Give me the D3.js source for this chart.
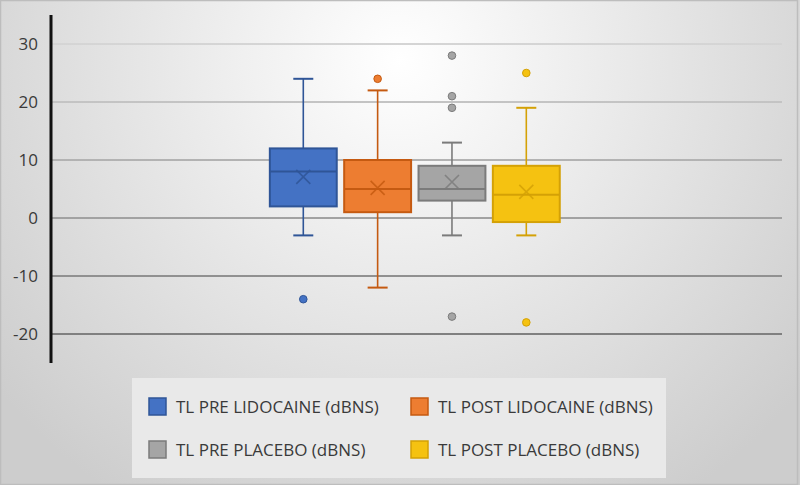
<!DOCTYPE html>
<html>
<head>
<meta charset="utf-8">
<script src="https://cdn.jsdelivr.net/npm/d3@7"></script>
<style>
    html, body { margin: 0; padding: 0; background: #fff; }
    svg { display: block; font-family: "Open Sans", "Noto Sans", sans-serif; }
</style>
</head>
<body>
<svg id="chart" width="800" height="485"></svg>
<script>
// Data
const seriesNames = ['TL PRE LIDOCAINE (dBNS)', 'TL POST LIDOCAINE (dBNS)', 'TL PRE PLACEBO (dBNS)', 'TL POST PLACEBO (dBNS)'];
const whiskerLow = [-3, -12, -3, -3];
const q1 = [2, 1, 3, -0.7];
const median = [8, 5, 5, 4];
const q3 = [12, 10, 9, 9];
const whiskerHigh = [24, 22, 13, 19];
const means = [7.1, 5.2, 6.2, 4.5];
const outliers = [[-14], [24], [28, 21, 19, -17], [25, -18]];
const yTicks = [-20, -10, 0, 10, 20, 30];

const fills = ['#4472c4', '#ed7d31', '#a5a5a5', '#f5c211'];
const strokes = ['#2f5597', '#c55a11', '#7b7b7b', '#d4a106'];

const svg = d3.select('#chart');
const W = 800, H = 485;

// Background
const defs = svg.append('defs');
const bg = defs.append('radialGradient').attr('id', 'bg')
    .attr('gradientUnits', 'userSpaceOnUse')
    .attr('cx', 400).attr('cy', 60).attr('r', 520);
bg.append('stop').attr('offset', '0%').attr('stop-color', '#ffffff');
bg.append('stop').attr('offset', '100%').attr('stop-color', '#cdcdcd');

const gridGrad = defs.append('linearGradient').attr('id', 'gridGrad')
    .attr('gradientUnits', 'userSpaceOnUse')
    .attr('x1', 0).attr('y1', 40).attr('x2', 0).attr('y2', 340);
gridGrad.append('stop').attr('offset', '0%').attr('stop-color', '#d6d6d6');
gridGrad.append('stop').attr('offset', '100%').attr('stop-color', '#7e7e7e');

svg.append('rect').attr('width', W).attr('height', H).attr('fill', 'url(#bg)');
svg.append('rect').attr('x', 0.5).attr('y', 0.5).attr('width', W - 3).attr('height', H - 1)
    .attr('fill', 'none').attr('stroke', '#bdbdbd').attr('stroke-width', 1.5);

// Scales
const y = d3.scaleLinear().domain([-25, 35]).range([363, 15]);
const x = d3.scaleBand().domain(seriesNames).range([52, 782])
    .paddingInner(0.1).paddingOuter(2.96).align(0.495);

// Gridlines
svg.append('g').selectAll('line').data(yTicks).enter().append('line')
    .attr('x1', 52).attr('x2', 782)
    .attr('y1', d => y(d)).attr('y2', d => y(d))
    .attr('stroke', 'url(#gridGrad)').attr('stroke-width', 2);

// Y axis
const yAxis = svg.append('g').attr('transform', 'translate(51,0)')
    .call(d3.axisLeft(y).tickValues(yTicks).tickSize(0).tickPadding(13).tickFormat(d => String(d)));
yAxis.select('.domain').remove();
yAxis.selectAll('text').attr('font-size', 17).attr('fill', '#3a3a3a')
    .attr('font-family', '"Open Sans", sans-serif');
svg.append('line').attr('x1', 51).attr('x2', 51).attr('y1', 15).attr('y2', 363)
    .attr('stroke', '#111').attr('stroke-width', 3);

// Boxes
const boxes = svg.append('g').selectAll('g').data(seriesNames).enter().append('g');
const cx = d => x(d) + x.bandwidth() / 2;
const capW = 20;

boxes.each(function(name, i) {
    const g = d3.select(this);
    const c = cx(name);
    const bw = x.bandwidth();
    // whiskers
    g.append('line').attr('x1', c).attr('x2', c).attr('y1', y(q3[i])).attr('y2', y(whiskerHigh[i]))
        .attr('stroke', strokes[i]).attr('stroke-width', 1.6);
    g.append('line').attr('x1', c).attr('x2', c).attr('y1', y(q1[i])).attr('y2', y(whiskerLow[i]))
        .attr('stroke', strokes[i]).attr('stroke-width', 1.6);
    [whiskerHigh[i], whiskerLow[i]].forEach(v => {
        g.append('line').attr('x1', c - capW / 2).attr('x2', c + capW / 2)
            .attr('y1', y(v)).attr('y2', y(v))
            .attr('stroke', strokes[i]).attr('stroke-width', 2);
    });
    // box
    g.append('rect').attr('x', x(name)).attr('width', bw)
        .attr('y', y(q3[i])).attr('height', y(q1[i]) - y(q3[i]))
        .attr('fill', fills[i]).attr('stroke', strokes[i]).attr('stroke-width', 2);
    g.append('line').attr('x1', x(name)).attr('x2', x(name) + bw)
        .attr('y1', y(median[i])).attr('y2', y(median[i]))
        .attr('stroke', strokes[i]).attr('stroke-width', 2);
    // mean marker
    const m = y(means[i]), s = 7;
    g.append('path')
        .attr('d', `M${c - s},${m - s}L${c + s},${m + s}M${c - s},${m + s}L${c + s},${m - s}`)
        .attr('stroke', strokes[i]).attr('stroke-width', 1.6).attr('fill', 'none').attr('opacity', 0.85);
    // outliers
    g.selectAll('circle').data(outliers[i]).enter().append('circle')
        .attr('cx', c).attr('cy', d => y(d)).attr('r', 3.8)
        .attr('fill', fills[i]).attr('stroke', strokes[i]).attr('stroke-width', 1);
});

// Legend
const legend = svg.append('g');
legend.append('rect').attr('x', 132).attr('y', 378).attr('width', 534).attr('height', 100)
    .attr('fill', '#e9e9e9');
const legendPos = [[149, 398], [411, 398], [149, 441], [411, 441]];
const items = legend.selectAll('g.item').data(seriesNames).enter().append('g')
    .attr('class', 'item')
    .attr('transform', (d, i) => `translate(${legendPos[i][0]},${legendPos[i][1]})`);
items.append('rect').attr('width', 17).attr('height', 17)
    .attr('fill', (d, i) => fills[i]).attr('stroke', (d, i) => strokes[i]).attr('stroke-width', 1.5);
items.append('text').attr('x', 27).attr('y', 15)
    .attr('font-size', 17).attr('fill', '#3a3a3a')
    .text(d => d);
</script>
</body>
</html>
